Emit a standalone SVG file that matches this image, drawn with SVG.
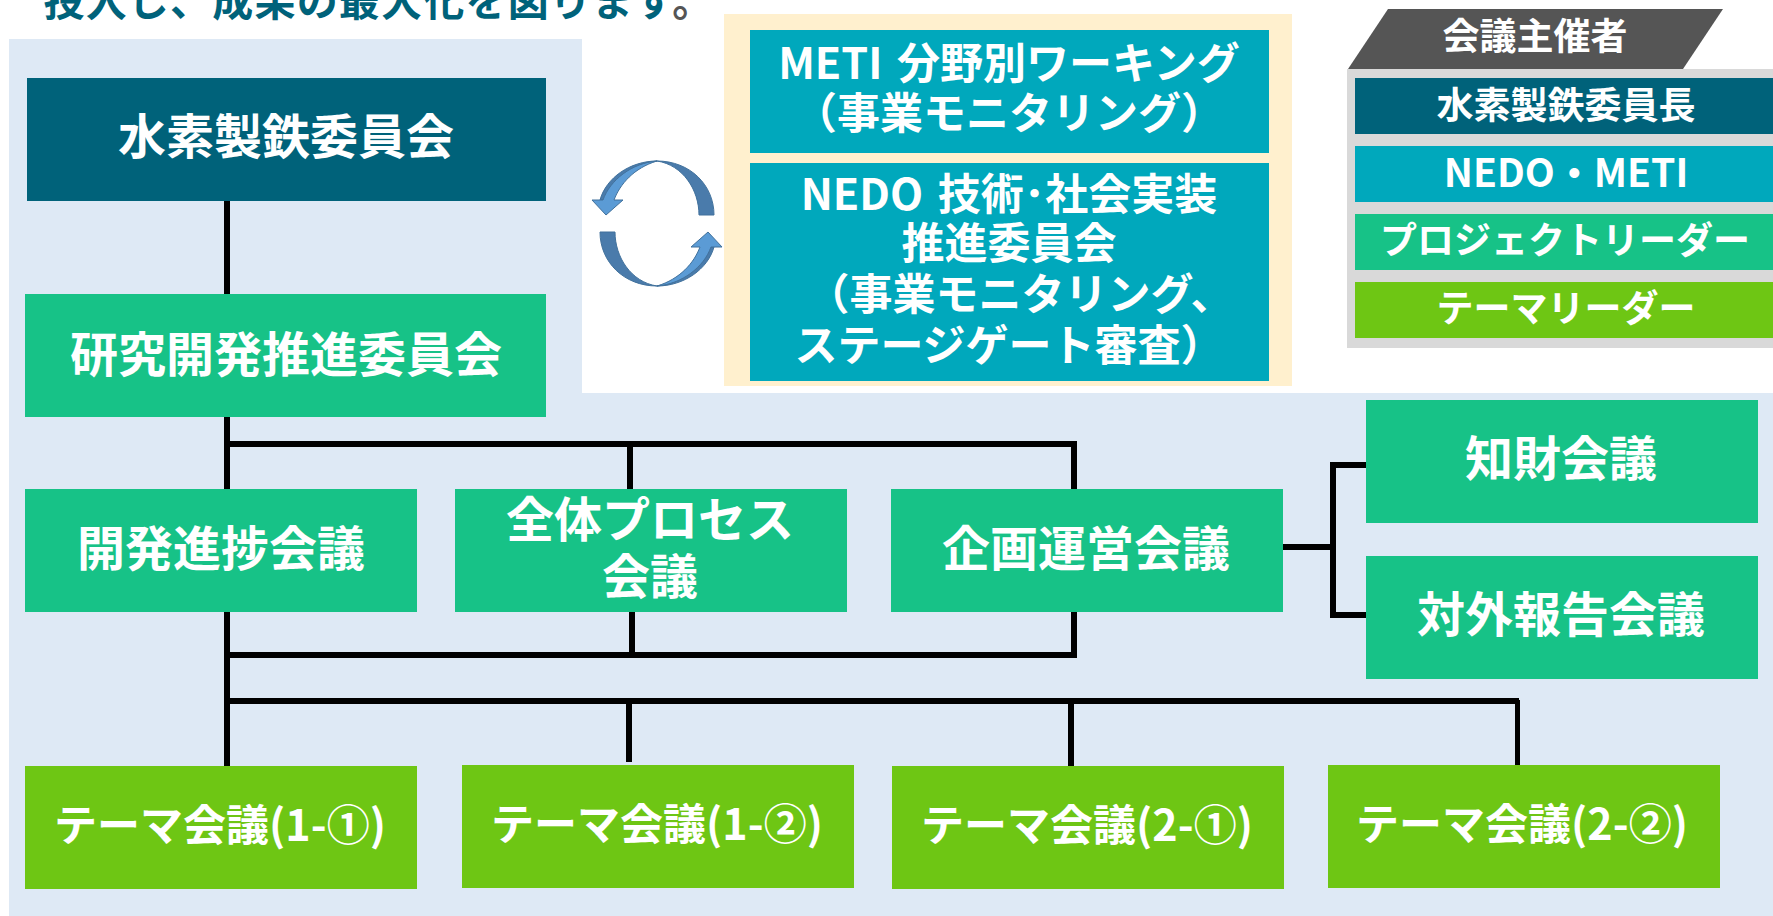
<svg xmlns="http://www.w3.org/2000/svg" width="1773" height="916" viewBox="0 0 1773 916">
<style>
text{font-family:"Noto Sans CJK JP","Noto Sans",sans-serif;font-weight:700;fill:#fff;text-anchor:middle}
.f48{font-size:48px}.f43{font-size:43px;word-spacing:5px}.f42{font-size:43px}.f37{font-size:37px}
.dark{fill:#00627a}.teal{fill:#00a8bc}.green{fill:#17c287}.lime{fill:#6ec614}
.ln{fill:#000}
.rib{stroke:#41719c;stroke-width:1}
</style>
<defs>
<g id="cycle">
<path class="rib" fill="#4a7bab" d="M714,215C714,185 690,161 657,161C683,165 699,190 699,215Z"/>
<path class="rib" fill="#4a7bab" d="M657,161C630,161 606,178 600,200L606,200C612,182 632,164 657,161Z"/>
<path class="rib" fill="#5b9bd5" d="M657,161C632,163 610,180 603,200L592,200L606,215L623,200L614,200C620,184 634,168 657,161Z"/>
</g>
</defs>
<rect width="1773" height="916" fill="#fff"/>
<path fill="#dee9f5" d="M9,39H582V393H1773V916H9Z"/>
<text x="379" y="16" font-size="41" style="fill:#00627a;letter-spacing:1.2px">投入し、成果の最大化を図ります<tspan style="fill:#555">。</tspan></text>
<rect x="724" y="14" width="568" height="372" fill="#fff0ce"/>
<g id="cycle-arrows"><use href="#cycle"/><use href="#cycle" transform="rotate(180 657 223.5)"/></g>
<g id="connectors">
<rect class="ln" x="224" y="201" width="6" height="565"/>
<rect class="ln" x="224" y="441" width="853" height="6"/>
<rect class="ln" x="627" y="447" width="6" height="42"/>
<rect class="ln" x="1071" y="441" width="6" height="48"/>
<rect class="ln" x="629" y="612" width="6" height="42"/>
<rect class="ln" x="1071" y="612" width="6" height="46"/>
<rect class="ln" x="224" y="652" width="853" height="6"/>
<rect class="ln" x="224" y="698" width="1295" height="6"/>
<rect class="ln" x="626" y="704" width="6" height="58"/>
<rect class="ln" x="1068" y="704" width="6" height="63"/>
<rect class="ln" x="1515" y="700" width="5" height="65"/>
<rect class="ln" x="1283" y="544" width="47" height="6"/>
<rect class="ln" x="1330" y="462" width="6" height="156"/>
<rect class="ln" x="1330" y="462" width="36" height="6"/>
<rect class="ln" x="1330" y="612" width="36" height="6"/>
</g>
<g id="n-suiso"><rect class="dark" x="27" y="78" width="519" height="123"/><text class="f48" x="286" y="154">水素製鉄委員会</text></g>
<g id="n-kenkyu"><rect class="green" x="25" y="294" width="521" height="123"/><text class="f48" x="286" y="372">研究開発推進委員会</text></g>
<g id="n-meti"><rect class="teal" x="750" y="30" width="519" height="123"/><text class="f43" x="1009" y="79">METI 分野別ワーキング</text><text class="f43" x="1009" y="129">（事業モニタリング）</text></g>
<g id="n-nedo"><rect class="teal" x="750" y="163" width="519" height="218"/><text class="f43" x="1009" y="210">NEDO 技術･社会実装</text><text class="f43" x="1009" y="259">推進委員会</text><text class="f43" x="1020" y="310">（事業モニタリング、</text><text class="f43" x="1009" y="361">ステージゲート審査）</text></g>
<g id="n-kaihatsu"><rect class="green" x="25" y="489" width="392" height="123"/><text class="f48" x="221" y="566">開発進捗会議</text></g>
<g id="n-zentai"><rect class="green" x="455" y="489" width="392" height="123"/><text class="f48" x="650" y="537">全体プロセス</text><text class="f48" x="650" y="594">会議</text></g>
<g id="n-kikaku"><rect class="green" x="891" y="489" width="392" height="123"/><text class="f48" x="1086" y="566">企画運営会議</text></g>
<g id="n-chizai"><rect class="green" x="1366" y="400" width="392" height="123"/><text class="f48" x="1561" y="476">知財会議</text></g>
<g id="n-taigai"><rect class="green" x="1366" y="556" width="392" height="123"/><text class="f48" x="1561" y="632">対外報告会議</text></g>
<g id="n-t11"><rect class="lime" x="25" y="766" width="392" height="123"/><text class="f42" x="220" y="841">テーマ会議(1-①)</text></g>
<g id="n-t12"><rect class="lime" x="462" y="765" width="392" height="123"/><text class="f42" x="657" y="840">テーマ会議(1-②)</text></g>
<g id="n-t21"><rect class="lime" x="892" y="766" width="392" height="123"/><text class="f42" x="1087" y="841">テーマ会議(2-①)</text></g>
<g id="n-t22"><rect class="lime" x="1328" y="765" width="392" height="123"/><text class="f42" x="1522" y="840">テーマ会議(2-②)</text></g>
<g id="legend">
<rect x="1347" y="69" width="426" height="279" fill="#d9d9d9"/>
<path d="M1388,9H1723L1683,69H1348Z" fill="#555"/>
<text class="f37" x="1535" y="50">会議主催者</text>
<rect class="dark" x="1355" y="78" width="418" height="56"/><text class="f37" x="1566" y="119">水素製鉄委員長</text>
<rect class="teal" x="1355" y="146" width="418" height="56"/><text x="1566" y="187" font-size="39">NEDO・METI</text>
<rect class="green" x="1355" y="214" width="418" height="56"/><text class="f37" x="1565" y="254">プロジェクトリーダー</text>
<rect class="lime" x="1355" y="282" width="418" height="56"/><text class="f37" x="1566" y="322">テーマリーダー</text>
</g>
</svg>
